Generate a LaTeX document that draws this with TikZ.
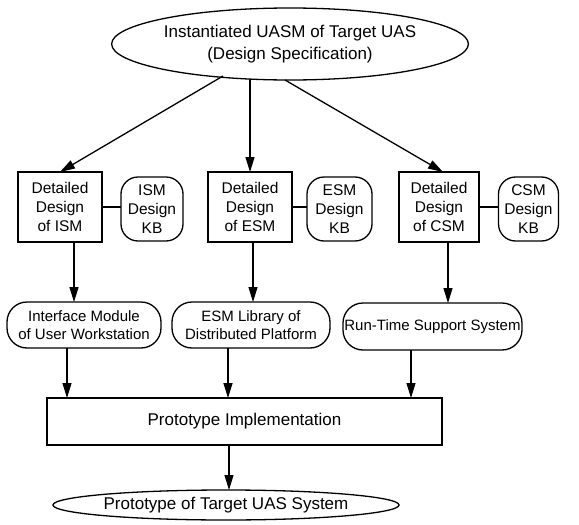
\documentclass[tikz,border=0pt]{standalone}
\usepackage{fontspec}
\setmainfont{Liberation Sans}
\usetikzlibrary{shapes.geometric,arrows.meta,calc}
\begin{document}
\begin{tikzpicture}[x=1pt,y=-1pt,
  every node/.style={inner sep=0pt,outer sep=0pt,align=center,line width=1.3pt},
  txt/.style={font=\fontsize{15.5}{19}\selectfont},
  pilltxt/.style={font=\fontsize{15}{18}\selectfont},
  bigtxt/.style={font=\fontsize{17}{22}\selectfont},
  sqbox/.style={draw,rectangle,txt},
  kbbox/.style={draw,rectangle,rounded corners=17pt,txt},
  pill/.style={draw,rectangle,rounded corners=20pt,pilltxt},
  ell/.style={draw,ellipse,bigtxt},
  arr/.style={line width=1.3pt,-{Triangle[length=15pt,width=9pt]}},
  link/.style={line width=1.3pt}]
\useasboundingbox (0,0) rectangle (579,525);
\node[ell,minimum width=276,minimum height=72] (top) at (290,44)
  {Instantiated UASM of Target UAS\\(Design Specification)};
\node[sqbox,minimum width=84,minimum height=70] (ism) at (60,207) {Detailed\\Design\\of ISM};
\node[kbbox,minimum width=62,minimum height=64] (ismkb) at (152,209) {ISM\\Design\\KB};
\node[sqbox,minimum width=84,minimum height=70] (esm) at (250,207) {Detailed\\Design\\of ESM};
\node[kbbox,minimum width=65,minimum height=64] (esmkb) at (339.5,209) {ESM\\Design\\KB};
\node[sqbox,minimum width=80,minimum height=70] (csm) at (439,207) {Detailed\\Design\\of CSM};
\node[kbbox,minimum width=60,minimum height=64] (csmkb) at (528.5,209) {CSM\\Design\\KB};
\node[pill,minimum width=154,minimum height=46] (iface) at (84,325) {Interface Module\\of User Workstation};
\node[pill,minimum width=158,minimum height=46] (esmlib) at (251,325) {ESM Library of\\Distributed Platform};
\node[pill,minimum width=179,minimum height=47] (rts) at (432.5,326.5) {Run-Time Support System};
\node[draw,rectangle,bigtxt,minimum width=395,minimum height=47] (proto) at (244.5,421.5) {Prototype Implementation};
\node[ell,minimum width=278,minimum height=30] (bot) at (226,505) {Prototype of Target UAS System};
\coordinate (s1) at (223,76);
\coordinate (s2) at (250,79);
\coordinate (s3) at (285,80);
\draw[arr] (s1) -- (ism.north);
\draw[arr] (s2) -- (esm.north);
\draw[arr] (s3) -- ([xshift=4]csm.north);
\draw[link] (ism.east) -- (ism.east -| ismkb.west);
\draw[link] (esm.east) -- (esm.east -| esmkb.west);
\draw[link] (csm.east) -- (csm.east -| csmkb.west);
\draw[arr] ([xshift=14]ism.south) -- ([xshift=14]ism.south |- iface.north);
\draw[arr] ([xshift=3]esm.south) -- ([xshift=3]esm.south |- esmlib.north);
\draw[arr] ([xshift=9]csm.south) -- ([xshift=9]csm.south |- rts.north);
\draw[arr] ([xshift=-17]iface.south) -- ([xshift=-17]iface.south |- proto.north);
\draw[arr] ([xshift=-23]esmlib.south) -- ([xshift=-23]esmlib.south |- proto.north);
\draw[arr] ([xshift=-21.5]rts.south) -- ([xshift=-21.5]rts.south |- proto.north);
\draw[arr] ([xshift=-15.5]proto.south) -- ([xshift=-15.5]proto.south |- bot.north);
\end{tikzpicture}
\end{document}
